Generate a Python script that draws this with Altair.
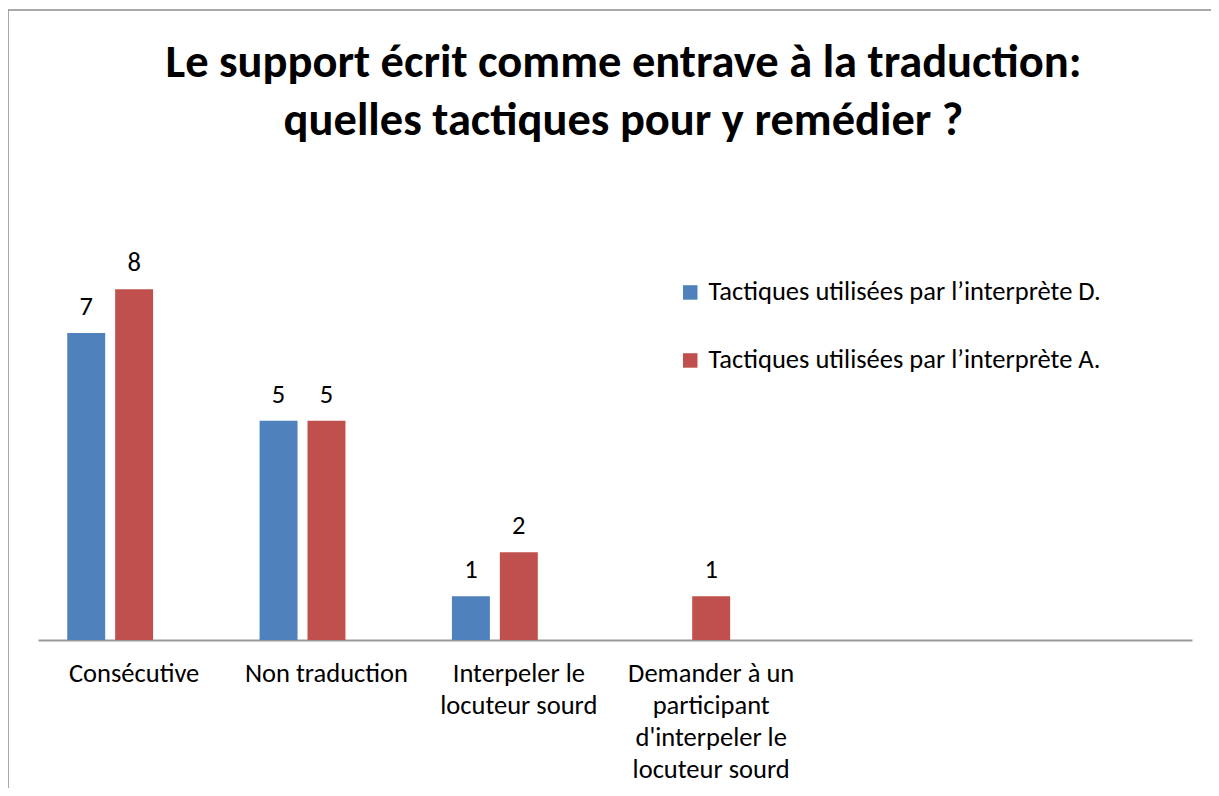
import altair as alt
import pandas as pd

# ---- data ----
title_lines = [
    "Le support écrit comme entrave à la traduction:",
    "quelles tactiques pour y remédier ?",
]
categories = [
    "Consécutive",
    "Non traduction",
    "Interpeler le\nlocuteur sourd",
    "Demander à un\nparticipant\nd'interpeler le\nlocuteur sourd",
    " ",
    "  ",
]
series = [
    "Tactiques utilisées par l’interprète D.",
    "Tactiques utilisées par l’interprète A.",
]
values_d = [7, 5, 1, None]
values_a = [8, 5, 2, 1]
colors = ["#4F81BD", "#C0504D"]
offset_slots = series + ["(série vide)"]

rows = []
for s, vals in zip(series, [values_d, values_a]):
    for cat, v in zip(categories, vals):
        if v is not None:
            rows.append({"cat": cat, "serie": s, "val": v})
df = pd.DataFrame(rows)

FONT = "Carlito, Calibri, 'Open Sans', sans-serif"
PLOT_W = 1154
PLOT_H = 438.4
FS = 26.5

x_enc = alt.X(
    "cat:N",
    scale=alt.Scale(domain=categories, paddingInner=0.3045, paddingOuter=0.152),
    axis=alt.Axis(
        title=None, labelAngle=0, ticks=False, tickSize=0, labelPadding=20,
        labelFontSize=FS, labelLineHeight=32, labelFont=FONT, labelColor="#000000",
        labelExpr="split(datum.label, '\\n')", labelLimit=500,
        domainColor="#9a9a9a", domainWidth=2,
    ),
)
xoff_enc = alt.XOffset(
    "serie:N", scale=alt.Scale(domain=offset_slots, paddingInner=0.208, paddingOuter=0)
)
y_enc = alt.Y("val:Q", scale=alt.Scale(domain=[0, 10]), axis=None)

base = alt.Chart(df)

bars = base.mark_bar().encode(
    x=x_enc,
    xOffset=xoff_enc,
    y=y_enc,
    color=alt.Color(
        "serie:N",
        scale=alt.Scale(domain=series, range=colors),
        legend=alt.Legend(
            title=None, orient="none", legendX=639, legendY=77.6,
            symbolType="square", symbolSize=210, symbolStrokeWidth=0,
            labelFontSize=FS, labelFont=FONT, labelColor="#000000",
            rowPadding=41, labelOffset=5, padding=0, labelLimit=600,
        ),
    ),
)

labels = base.mark_text(
    dy=-18, baseline="alphabetic", fontSize=FS, font=FONT, color="#000000"
).encode(x=x_enc, xOffset=xoff_enc, y=y_enc, text="val:Q")

title = alt.Chart(alt.Data(values=[{"t": "\n".join(title_lines)}])).mark_text(
    lineBreak="\n", lineHeight=58, baseline="alphabetic", align="center",
    fontSize=46.5, fontWeight="bold", font=FONT, color="#000000",
).encode(x=alt.value(585.5), y=alt.value(-124.9), text="t:N")

frame_left = alt.Chart(alt.Data(values=[{}])).mark_rule(
    stroke="#8c8c8c", strokeWidth=1.5
).encode(x=alt.value(-30), y=alt.value(-191.6), y2=alt.value(800))
frame_top = alt.Chart(alt.Data(values=[{}])).mark_rule(
    stroke="#8c8c8c", strokeWidth=1.5
).encode(x=alt.value(-30), x2=alt.value(1300), y=alt.value(-191.6))

chart = alt.layer(frame_left, frame_top, title, bars, labels).properties(
    width=PLOT_W,
    height=PLOT_H,
    background="white",
    autosize=alt.AutoSizeParams(type="none"),
    padding={"left": 30, "top": 193.6, "right": 19, "bottom": 148},
).configure_view(strokeWidth=0, stroke=None)

chart.save("out.html", embed_options={"renderer": "svg", "actions": False})
